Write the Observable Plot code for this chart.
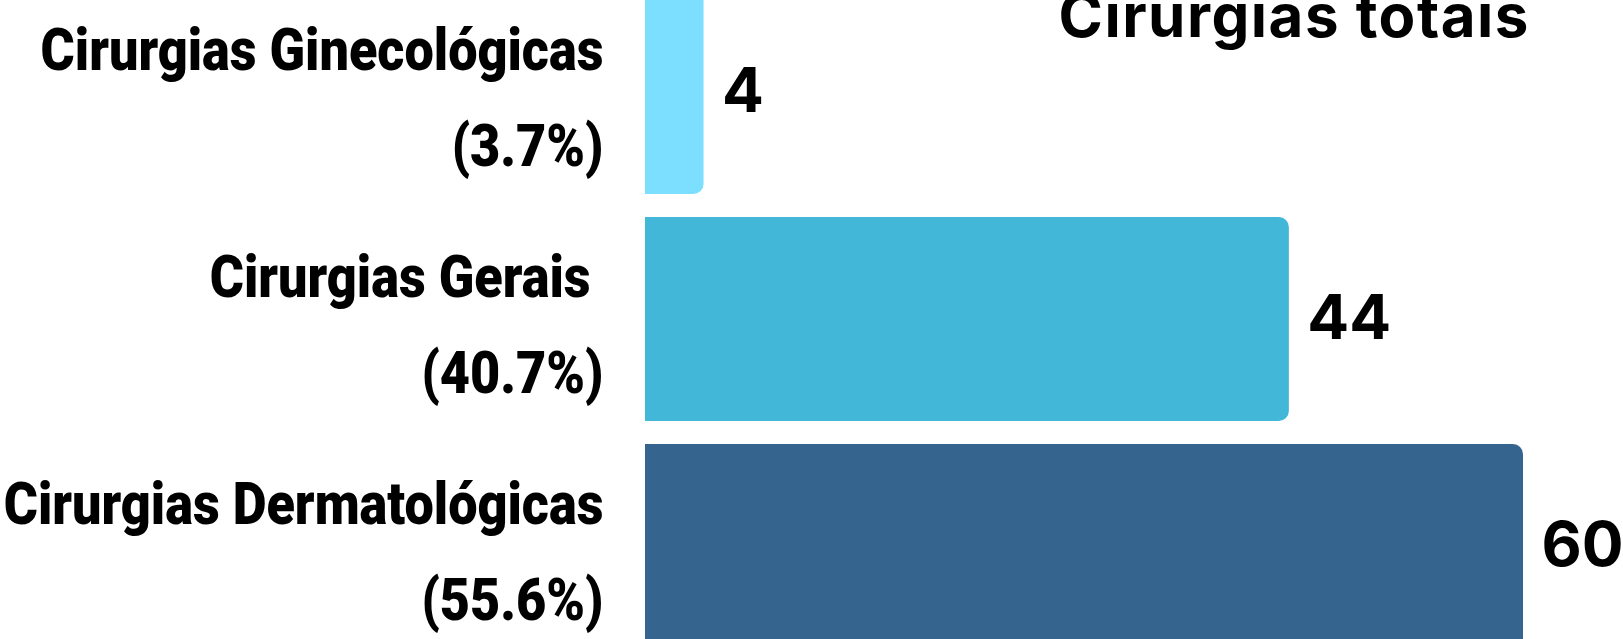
<!DOCTYPE html>
<html>
<head>
<meta charset="utf-8">
<script src="https://cdn.jsdelivr.net/npm/d3@7"></script>
<script src="https://cdn.jsdelivr.net/npm/@observablehq/plot@0.6"></script>
<style>
  html, body { margin: 0; padding: 0; background: #ffffff; }
  #chart svg text { white-space: pre; }
  #chart svg .title-text text { letter-spacing: 1.5px; }
</style>
</head>
<body>
<div id="chart"></div>
<script>
// Data
const categories = ["Cirurgias Ginecológicas", "Cirurgias Gerais ", "Cirurgias Dermatológicas"];
const shares = ["(3.7%)", "(40.7%)", "(55.6%)"];
const values = [4, 44, 60];
const colors = ["#7cdfff", "#43b7d7", "#35658e"];
const title = "Cirurgias totais";

const rows = categories.map((c, i) => ({
  category: c,
  label: c + "\n" + shares[i],
  value: values[i],
  color: colors[i]
}));

const labelFont = "Roboto, 'Noto Sans', sans-serif";
const numberFont = "Inter, Lato, sans-serif";
const condense = 0.87; // horizontal squeeze to mimic a condensed face

const chart = Plot.plot({
  width: 1623,
  height: 639,
  marginLeft: 645,
  marginRight: 0,
  marginTop: 0,
  marginBottom: 0,
  x: { domain: [0, 60], range: [645, 1523], axis: null },
  y: { domain: categories, range: [-10.5, 648.5], paddingInner: 0.1, paddingOuter: 0, axis: null },
  marks: [
    Plot.barX(rows, {
      x: "value",
      y: "category",
      fill: "color",
      rx2: 10
    }),
    Plot.text(rows, {
      x: 0,
      y: "category",
      text: "label",
      textAnchor: "end",
      dx: -42,
      dy: -5,
      lineHeight: 1.6,
      fontSize: 60,
      fontWeight: 900,
      fontFamily: labelFont,
      fill: "#000",
      className: "cond-label"
    }),
    Plot.text(rows, {
      x: "value",
      y: "category",
      text: d => String(d.value),
      textAnchor: "start",
      dx: 18,
      fontSize: 62,
      fontWeight: "bold",
      fontFamily: numberFont,
      fill: "#000"
    }),
    Plot.text([title], {
      frameAnchor: "top-left",
      text: d => d,
      textAnchor: "start",
      lineAnchor: "bottom",
      dx: 1058 - 645,
      dy: 36,
      fontSize: 60,
      fontWeight: "bold",
      fontFamily: numberFont,
      fill: "#000",
      className: "title-text"
    })
  ]
});

// squeeze the category labels horizontally around their anchor point
chart.querySelectorAll(".cond-label text").forEach(t => {
  const x = parseFloat(t.getAttribute("x") || "0");
  const prev = t.getAttribute("transform") || "";
  t.setAttribute("transform", `${prev} translate(${x},0) scale(${condense},1) translate(${-x},0)`);
});

document.getElementById("chart").appendChild(chart);
</script>
</body>
</html>
